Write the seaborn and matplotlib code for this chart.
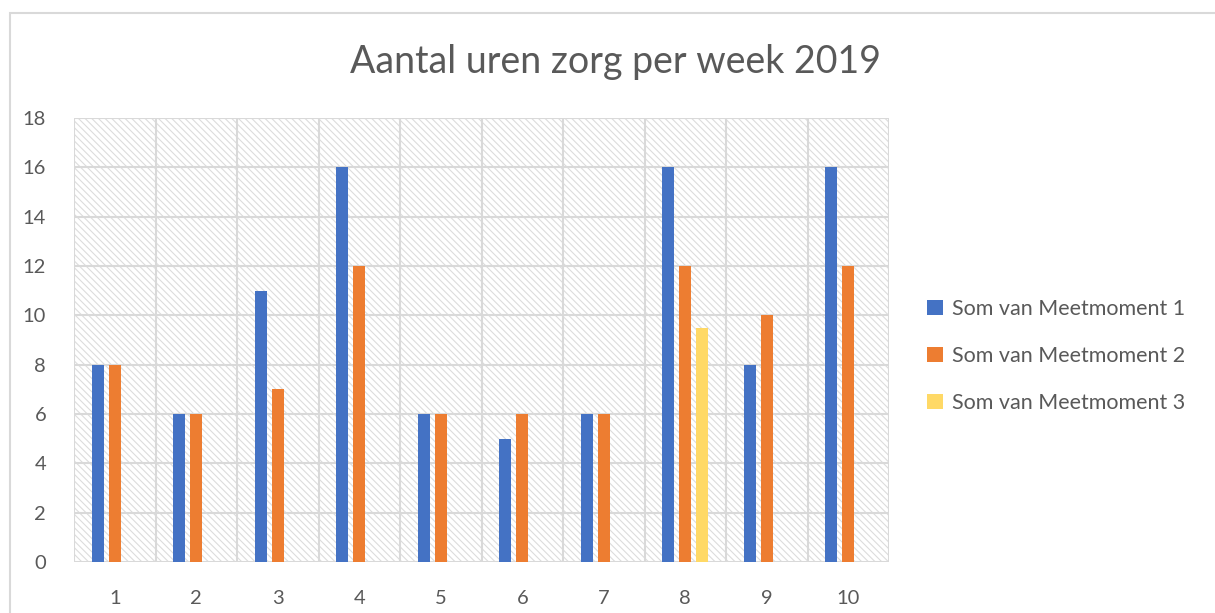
import matplotlib
matplotlib.use("Agg")
import matplotlib.pyplot as plt
from matplotlib.patches import Rectangle
import seaborn as sns
import pandas as pd

weeks = ["1", "2", "3", "4", "5", "6", "7", "8", "9", "10"]
meetmoment_1 = [8, 6, 11, 16, 6, 5, 6, 16, 8, 16]
meetmoment_2 = [8, 6, 7, 12, 6, 6, 6, 12, 10, 12]
meetmoment_3 = [0, 0, 0, 0, 0, 0, 0, 9.5, 0, 0]
series_names = ["Som van Meetmoment 1", "Som van Meetmoment 2", "Som van Meetmoment 3"]
colors = ["#4472C4", "#ED7D31", "#FFD966"]

rows = []
for name, vals in zip(series_names, [meetmoment_1, meetmoment_2, meetmoment_3]):
    for w, v in zip(weeks, vals):
        rows.append({"week": w, "uren": v, "serie": name})
df = pd.DataFrame(rows)

sns.set_theme(style="white")
plt.rcParams["font.family"] = ["Lato", "DejaVu Sans"]
plt.rcParams["hatch.linewidth"] = 0.8
plt.rcParams["hatch.color"] = "#dcdcdc"

fig = plt.figure(figsize=(12.15, 6.13), dpi=100)
ax = fig.add_axes([74 / 1215, 1 - 562 / 613, (889 - 74) / 1215, (562 - 118) / 613])

# outer chart border like Excel
fig.patches.append(Rectangle((10 / 1215, -0.1), 1.2, 1 - 13 / 613 + 0.1,
                             transform=fig.transFigure, fill=False,
                             edgecolor="#d9d9d9", linewidth=1.5, zorder=0))

# hatched plot area
ax.set_facecolor("white")
ax.add_patch(Rectangle((0, 0), 1, 1, transform=ax.transAxes, facecolor="white",
                       edgecolor="#dcdcdc", hatch="\\\\\\\\\\", linewidth=0, zorder=0))

sns.barplot(data=df, x="week", y="uren", hue="serie", palette=colors,
            width=0.63, gap=0.29, linewidth=0, saturation=1, ax=ax, zorder=3)

ax.set_xlim(-0.5, 9.5)
ax.set_ylim(0, 18)
ax.set_yticks(range(0, 19, 2))
for y in range(0, 19, 2):
    ax.axhline(y, color="#d9d9d9", linewidth=1.5, zorder=1)
for k in range(11):
    ax.axvline(k - 0.5, color="#d9d9d9", linewidth=1.5, zorder=1)
for s in ax.spines.values():
    s.set_visible(False)

ax.set_xlabel("")
ax.set_ylabel("")
ax.tick_params(axis="both", length=0, labelsize=14.5, colors="#595959")
ax.tick_params(axis="y", pad=20)
ax.tick_params(axis="x", pad=20)

fig.text(615 / 1215, 1 - 62 / 613, "Aantal uren zorg per week 2019", fontsize=27,
         color="#595959", ha="center", va="center")

handles, labels = ax.get_legend_handles_labels()
ax.legend(handles, labels, loc="center left", bbox_to_anchor=(912 / 1215, 1 - 356 / 613),
          bbox_transform=fig.transFigure, frameon=False, fontsize=15.5,
          labelcolor="#595959", handlelength=0.75, handleheight=0.75,
          handletextpad=0.4, labelspacing=1.25, borderpad=0.2)

fig.savefig("out.png", dpi=100)
